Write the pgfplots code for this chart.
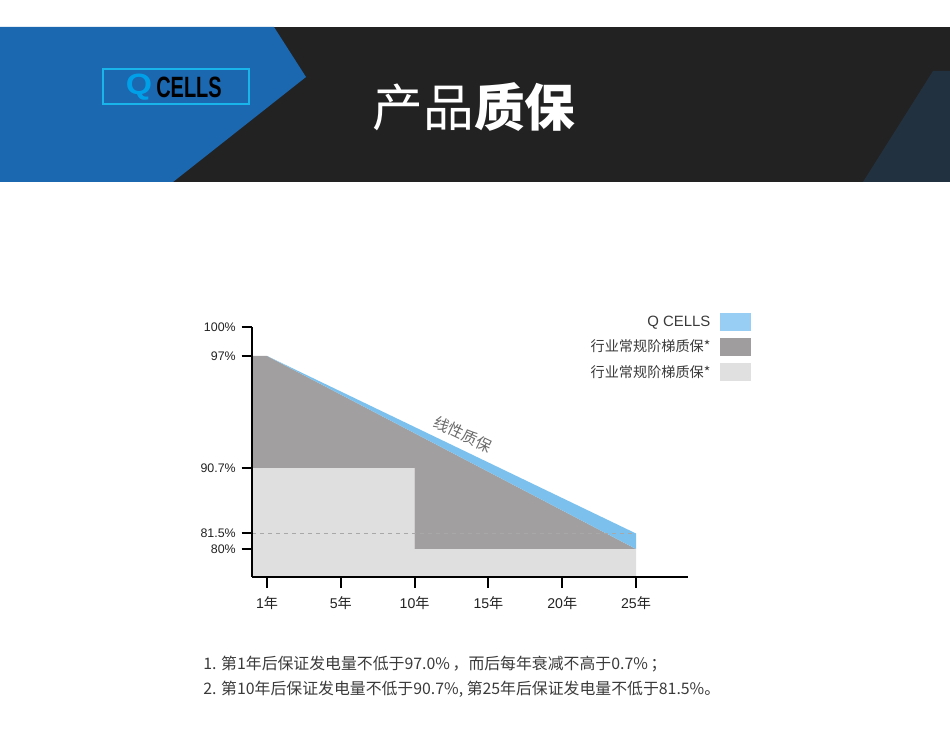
\documentclass[border=0pt]{standalone}
\usepackage{fontspec}
\setmainfont{Liberation Sans}
\newfontfamily\cjk{Noto Sans CJK SC}
\usepackage{pgfplots}
\pgfplotsset{compat=1.18}

\definecolor{bannerdark}{HTML}{222222}
\definecolor{bannerblue}{HTML}{1B67B0}
\definecolor{bannernavy}{HTML}{22313F}
\definecolor{logocyan}{HTML}{19B4E9}
\definecolor{qblue}{HTML}{00A0E9}
\definecolor{areablue}{HTML}{7CC1EE}
\definecolor{areadark}{HTML}{A19FA0}
\definecolor{arealight}{HTML}{DFDFDF}
\definecolor{legblue}{HTML}{98CDF4}
\definecolor{legdark}{HTML}{9F9D9E}
\definecolor{leglight}{HTML}{E0E0E0}
\definecolor{ticktext}{HTML}{222222}
\definecolor{notegray}{HTML}{3A3A3A}
\definecolor{slantgray}{HTML}{6A6A6A}
\definecolor{dashgray}{HTML}{A8A8A8}

\begin{document}
\begin{tikzpicture}[x=0.75pt,y=0.75pt]
\path[use as bounding box] (0,0) rectangle (950,742);

% header banner
\fill[bannerdark] (0,560) rectangle (950,715);
\fill[bannerblue] (0,715) -- (274,715) -- (306,665) -- (173,560) -- (0,560) -- cycle;
\fill[bannernavy] (933,671) -- (950,671) -- (950,560) -- (863,560) -- cycle;
\draw[logocyan, line width=0.9pt] (103,673) rectangle (249,638);
\node[text=qblue, font=\bfseries\fontsize{22}{22}\selectfont, xscale=1.15] at (139,655) {Q};
\node[text=black, font=\bfseries\fontsize{22}{22}\selectfont, xscale=0.68] at (189,655) {CELLS};
\node[text=white, font=\cjk\fontsize{38}{40}\selectfont] at (474,635) {产品{\bfseries 质保}};

\begin{axis}[
    at={(189.2pt,123.75pt)}, anchor=south west,
    x=11.07pt, y=0.75pt,
    xmin=-1, xmax=28.5, ymin=77.29, ymax=100,
    y coord trafo/.code={\pgfmathparse{#1<81.5 ? 28+(#1-80)*10.333 :
        (#1<90.7 ? 43.5+(#1-81.5)*7.1196 :
        (#1<97 ? 109+(#1-90.7)*17.778 : 221+(#1-97)*9.5))}},
    axis lines=left,
    axis line style={line width=1.5pt, -},
    axis on top,
    clip=false,
    tick align=outside,
    major tick length=7.9pt,
    tick style={line width=1.5pt, black},
    xtick={0,5,10,15,20,25},
    xticklabels={1{\cjk 年},5{\cjk 年},10{\cjk 年},15{\cjk 年},20{\cjk 年},25{\cjk 年}},
    ytick={80,81.5,90.7,97,100},
    yticklabels={80\%,81.5\%,90.7\%,97\%,100\%},
    x tick label style={font=\fontsize{10.6}{12}\selectfont, text=ticktext, yshift=-3.5pt},
    y tick label style={font=\fontsize{9.3}{11}\selectfont, text=ticktext, xshift=-1pt},
    legend style={at={(1.1454,1.058)}, anchor=north east, draw=none, fill=none,
        inner sep=0pt, row sep=4.5pt, text=notegray,
        font=\fontsize{10.6}{12}\selectfont},
    legend cell align=right,
    legend plot pos=right,
    legend image code/.code={\path (0pt,0pt); \fill[#1] (5pt,-6.75pt) rectangle (28.25pt,6.75pt);},
]
% industry step warranty, lower step
\addplot[fill=arealight, draw=none, forget plot] coordinates {
    (-1,77.29) (-1,90.7) (10,90.7) (10,80) (25,80) (25,77.29)} -- cycle;
% industry step warranty, upper part
\addplot[fill=areadark, draw=none, forget plot] coordinates {
    (-1,90.7) (-1,97) (0,97) (25,80) (10,80) (10,90.7)} -- cycle;
% Q CELLS linear warranty
\addplot[fill=areablue, draw=none, forget plot] coordinates {
    (0,97) (25,81.5) (25,80)} -- cycle;
% 81.5% guide
\addplot[dashgray, dashed, line width=0.6pt, forget plot] coordinates {
    (-1,81.5) (25,81.5)};

\node[rotate=-25.5, text=slantgray, font=\cjk\fontsize{11.6}{13}\selectfont]
    at (axis cs:13.3,92.6) {线性质保};

\addlegendimage{fill=legblue, draw=none}
\addlegendentry{\fontsize{11.2}{12}\selectfont Q CELLS}
\addlegendimage{fill=legdark, draw=none}
\addlegendentry{\cjk 行业常规阶梯质保*}
\addlegendimage{fill=leglight, draw=none}
\addlegendentry{\cjk 行业常规阶梯质保*}
\end{axis}

% notes
\node[anchor=west, text=notegray, font=\cjk\fontsize{11.9}{14}\selectfont, inner sep=0pt]
    at (203,78) {1. 第1年后保证发电量不低于97.0\%\,，而后每年衰减不高于0.7\%\,；};
\node[anchor=west, text=notegray, font=\cjk\fontsize{11.9}{14}\selectfont, inner sep=0pt]
    at (203,53) {2. 第10年后保证发电量不低于90.7\%, 第25年后保证发电量不低于81.5\%。};
\end{tikzpicture}
\end{document}
